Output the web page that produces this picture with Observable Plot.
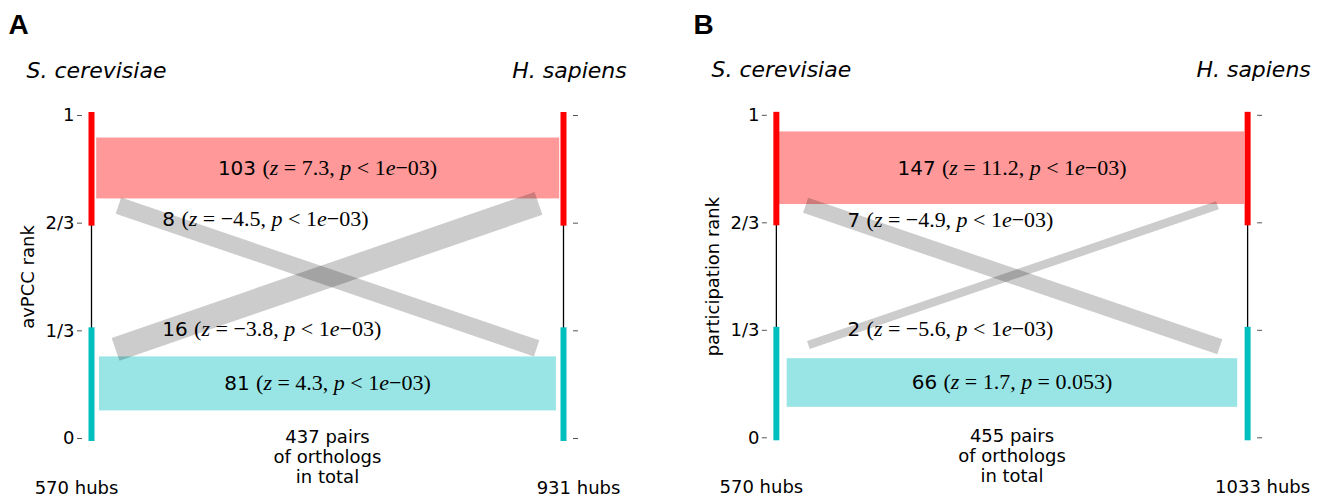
<!DOCTYPE html>
<html><head><meta charset="utf-8">
<script src="https://cdn.jsdelivr.net/npm/d3@7"></script>
<script src="https://cdn.jsdelivr.net/npm/@observablehq/plot@0.6"></script>
<style>
body{margin:0;background:#fff;}
#wrap{position:relative;width:1324px;height:497px;overflow:hidden;background:#fff;}
.panel{position:absolute;top:0;}
</style></head><body><div id="wrap"></div>
<script>
// ---------- data ----------
const panelLetters = ["A", "B"];
const rankLabels = ["avPCC rank", "participation rank"];
const speciesLeft = "S. cerevisiae";
const speciesRight = "H. sapiens";
const leftHubs = [570, 570];
const rightHubs = [931, 1033];
const pairsTotal = [437, 455];
const rankTicks = [0, 1/3, 2/3, 1];
const rankTickLabels = ["0", "1/3", "2/3", "1"];
const terciles = ["low", "middle", "high"];
const tercileFrom = [0, 1/3, 2/3];
const tercileTo = [1/3, 2/3, 1];

// top tercile in both species
const highCount = [103, 147];
const highZ = ["7.3", "11.2"];
const highP = ["<", "<"];
const highPv = ["1e−03", "1e−03"];
const highY = [0.836, 0.836];
const highX1 = [0.011, 0.006];
const highX2 = [0.992, 0.994];
// bottom tercile in both species
const lowCount = [81, 66];
const lowZ = ["4.3", "1.7"];
const lowP = ["<", "="];
const lowPv = ["1e−03", "0.053"];
const lowY = [0.169, 0.170];
const lowX1 = [0.017, 0.023];
const lowX2 = [0.985, 0.979];
// top (yeast) -> bottom (human)
const hlCount = [8, 7];
const hlZ = ["−4.5", "−4.9"];
const hlP = ["<", "<"];
const hlPv = ["1e−03", "1e−03"];
const hlX1 = [0.057, 0.062], hlY1 = [0.721, 0.721];
const hlX2 = [0.943, 0.941], hlY2 = [0.279, 0.282];
const hlLabelY = [0.678, 0.672];
// bottom (yeast) -> top (human)
const lhCount = [16, 2];
const lhZ = ["−3.8", "−5.6"];
const lhP = ["<", "<"];
const lhPv = ["1e−03", "1e−03"];
const lhX1 = [0.051, 0.068], lhY1 = [0.276, 0.288];
const lhX2 = [0.947, 0.936], lhY2 = [0.728, 0.721];
const lhLabelY = [0.337, 0.337];
const crossLabelX = [0.150, 0.151];
const straightLabelX = [0.5, 0.5];

// ---------- drawing ----------
const RED = "#ff0000", TEAL = "#00bfbf";
const SERIF = "'Liberation Serif','DejaVu Serif',serif";
const K = 6 / 323; // y-units of band thickness per sqrt(count)
const tickLabelOf = new Map(rankTicks.map((t, i) => [t, rankTickLabels[i]]));
const plainLabel = d => `${d.count} (z=${d.z}, p${d.rel}${d.pv})`;

function makePanel(i) {
  const straight = [
    {kind: "high", count: highCount[i], z: highZ[i], rel: highP[i], pv: highPv[i], x1: highX1[i], x2: highX2[i], y: highY[i], lx: straightLabelX[i]},
    {kind: "low", count: lowCount[i], z: lowZ[i], rel: lowP[i], pv: lowPv[i], x1: lowX1[i], x2: lowX2[i], y: lowY[i], lx: straightLabelX[i]}
  ];
  const cross = [
    {count: hlCount[i], z: hlZ[i], rel: hlP[i], pv: hlPv[i], x1: hlX1[i], y1: hlY1[i], x2: hlX2[i], y2: hlY2[i], lx: crossLabelX[i], ly: hlLabelY[i]},
    {count: lhCount[i], z: lhZ[i], rel: lhP[i], pv: lhPv[i], x1: lhX1[i], y1: lhY1[i], x2: lhX2[i], y2: lhY2[i], lx: crossLabelX[i], ly: lhLabelY[i]}
  ];
  const spines = [];
  for (const side of [0, 1]) terciles.forEach((t, j) => spines.push({side, t, from: tercileFrom[j], to: tercileTo[j]}));
  const colored = spines.filter(d => d.t !== "middle");
  const middle = spines.filter(d => d.t === "middle");
  const labelMap = new Map([...straight, ...cross].map(d => [plainLabel(d), d]));

  const svg = Plot.plot({
    width: 640, height: 497,
    marginLeft: 91, marginRight: 77, marginTop: 115, marginBottom: 59,
    x: {domain: [0, 1], axis: null},
    y: {domain: [0, 1], axis: null},
    style: {fontFamily: "'DejaVu Sans', sans-serif", fontSize: "16px", background: "white", overflow: "visible", color: "black"},
    marks: [
      Plot.rect(straight, {x1: "x1", x2: "x2", y1: d => d.y - K * Math.sqrt(d.count) / 2, y2: d => d.y + K * Math.sqrt(d.count) / 2,
        fill: d => d.kind === "high" ? RED : TEAL, fillOpacity: 0.4}),
      Plot.link(cross, {x1: "x1", y1: "y1", x2: "x2", y2: "y2", stroke: "black", strokeOpacity: 0.2,
        strokeWidth: d => 6 * Math.sqrt(d.count), strokeLinecap: "butt", curve: "linear"}),
      Plot.ruleX(middle, {x: "side", y1: "from", y2: "to", stroke: "black", strokeWidth: 1.3}),
      Plot.ruleX(colored, {x: "side", y1: "from", y2: "to", stroke: d => d.t === "high" ? RED : TEAL, strokeWidth: 6, strokeLinecap: "square"}),
      Plot.axisY({anchor: "left", ticks: rankTicks, tickFormat: () => "", tickSize: 5, dx: -9, label: null, stroke: "#555"}),
      Plot.axisY({anchor: "right", ticks: rankTicks, tickFormat: () => "", tickSize: 5, dx: 9, label: null, stroke: "#555"}),
      Plot.text(rankTicks, {y: d => d, frameAnchor: "left", dx: -17, textAnchor: "end", lineAnchor: "middle", text: d => tickLabelOf.get(d), fontSize: 18, fill: "black"}),
      Plot.text(straight, {x: "lx", y: "y", text: plainLabel, textAnchor: "middle", lineAnchor: "middle", fontSize: 20, fill: "black"}),
      Plot.text(cross, {x: "lx", y: "ly", text: plainLabel, textAnchor: "start", lineAnchor: "middle", fontSize: 20, fill: "black"}),
      Plot.text([panelLetters[i]], {frameAnchor: "top-left", dx: -83, dy: -90, textAnchor: "start", lineAnchor: "middle", fontSize: 28, fontWeight: "bold", fontFamily: "'Liberation Sans', Arial, sans-serif"}),
      Plot.text([speciesLeft], {frameAnchor: "top-left", dx: 5, dy: -45, textAnchor: "middle", lineAnchor: "middle", fontSize: 22, fontStyle: "italic"}),
      Plot.text([speciesRight], {frameAnchor: "top-right", dx: 6, dy: -45, textAnchor: "middle", lineAnchor: "middle", fontSize: 22, fontStyle: "italic"}),
      Plot.text([`${leftHubs[i]} hubs`], {frameAnchor: "bottom-left", dx: -15, dy: 50, textAnchor: "middle", lineAnchor: "middle", fontSize: 18}),
      Plot.text([`${rightHubs[i]} hubs`], {frameAnchor: "bottom-right", dx: 15, dy: 50, textAnchor: "middle", lineAnchor: "middle", fontSize: 18}),
      Plot.text([`${pairsTotal[i]} pairs\nof orthologs\nin total`], {frameAnchor: "bottom", dy: -10, textAnchor: "middle", lineAnchor: "top", lineHeight: 1.11, fontSize: 18}),
      Plot.text([rankLabels[i]], {frameAnchor: "left", dx: -63, rotate: -90, textAnchor: "middle", lineAnchor: "middle", fontSize: 18})
    ]
  });

  // rich text (math-styled statistics) for band labels
  d3.select(svg).selectAll("text").each(function() {
    const d = labelMap.get(this.textContent);
    if (!d) return;
    const t = d3.select(this);
    t.text(null);
    const add = (s, serif, italic) => {
      const ts = t.append("tspan").text(s);
      if (serif) ts.attr("font-family", SERIF).attr("font-size", 22);
      if (italic) ts.attr("font-style", "italic");
    };
    add(`${d.count} `);
    add("(", true);
    add("z", true, true);
    add(`\u2005=\u2005${d.z}, `, true);
    add("p", true, true);
    add(`\u2005${d.rel}\u2005`, true);
    const m = d.pv.split("e");
    if (m.length === 2) { add(m[0], true); add("e", true, true); add(m[1] + ")", true); }
    else add(d.pv + ")", true);
  });
  return svg;
}

const wrap = document.getElementById("wrap");
[0, 685].forEach((left, i) => {
  const div = document.createElement("div");
  div.className = "panel";
  div.style.left = left + "px";
  div.appendChild(makePanel(i));
  wrap.appendChild(div);
});
</script></body></html>
